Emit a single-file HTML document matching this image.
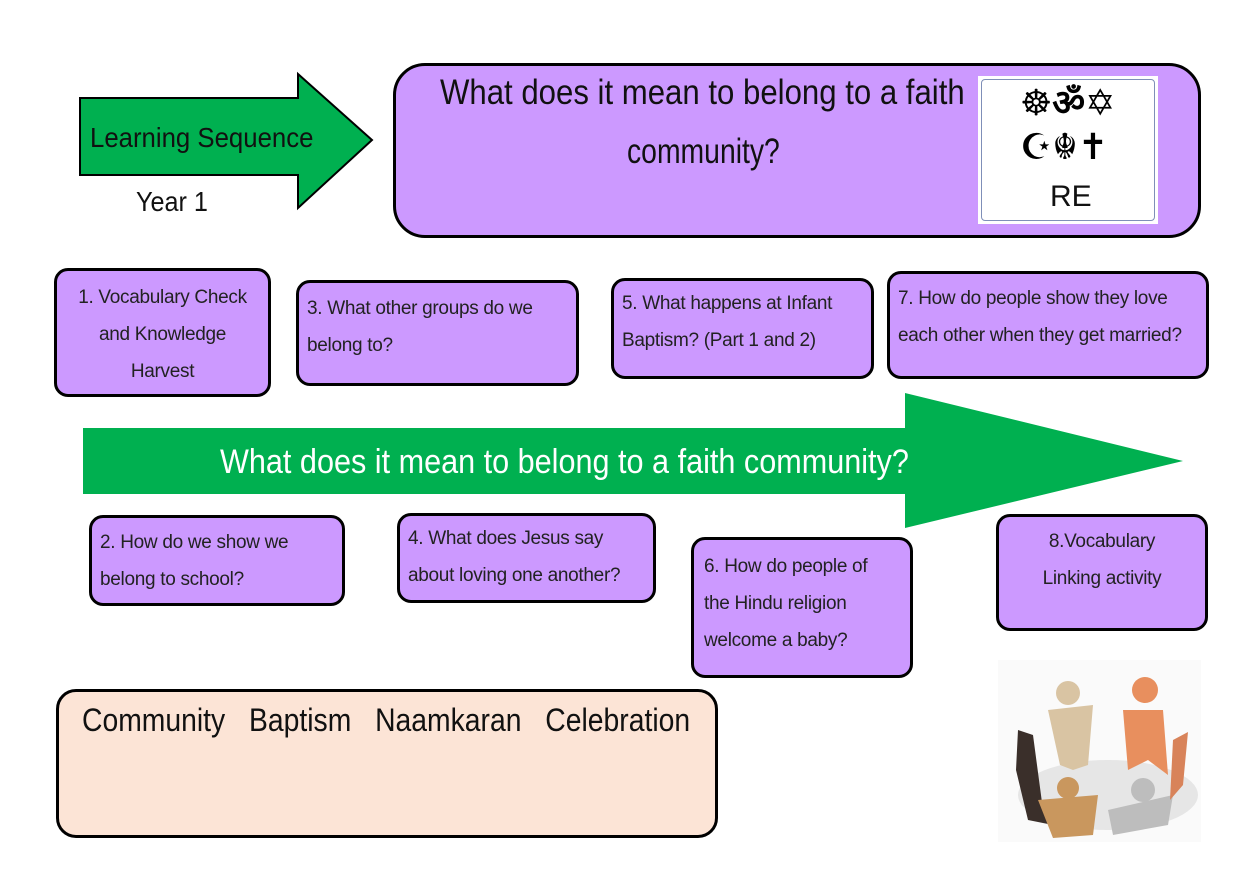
<!DOCTYPE html>
<html><head><style>
body{margin:0;width:1260px;height:891px;background:#fff;position:relative;overflow:hidden;font-family:"Liberation Sans",sans-serif;}
.b{position:absolute;box-sizing:border-box;background:#cc99ff;border:3px solid #000;border-radius:14px;color:#222;font-size:19px;line-height:37px;letter-spacing:-0.3px}
.t{position:absolute;white-space:nowrap;transform-origin:0 0}
</style></head><body>
<svg style="position:absolute;left:0;top:0" width="1260" height="891">
<polygon points="80,98 298,98 298,74 372,140 298,208 298,175 80,175" fill="#00b050" stroke="#000" stroke-width="2"/>
<polygon points="83,428 905,428 905,393 1183,461 905,528 905,494 83,494" fill="#00b050"/>
</svg>
<div class="t" style="left:90px;top:122px;font-size:28px;color:#111;transform:scaleX(0.92)">Learning Sequence</div>
<div class="t" style="left:136px;top:186px;font-size:28px;color:#111;transform:scaleX(0.9)">Year 1</div>
<div class="b" style="left:393px;top:63px;width:808px;height:175px;border-radius:32px"></div>
<div class="t" style="left:440px;top:73px;font-size:35px;color:#111;transform:scaleX(0.89)">What does it mean to belong to a faith</div>
<div class="t" style="left:627px;top:132px;font-size:35px;color:#111;transform:scaleX(0.81)">community?</div>
<div style="position:absolute;left:978px;top:76px;width:180px;height:148px;background:#fff;">
<div style="position:absolute;left:3px;top:3px;right:3px;bottom:3px;border:1px solid #7f8fb8;border-radius:4px"></div>
<div class="t" style="left:42px;top:6px;font-size:36px;line-height:44px;font-family:'DejaVu Sans',sans-serif;color:#000;font-weight:bold">☸ॐ✡<br>☪☬✝</div>
<div class="t" style="left:72px;top:104px;font-size:30px;color:#111">RE</div>
</div>
<div class="b" style="left:54px;top:268px;width:217px;height:129px;text-align:center;padding-top:8px">1. Vocabulary Check<br>and Knowledge<br>Harvest</div>
<div class="b" style="left:296px;top:280px;width:283px;height:106px;padding:7px 0 0 8px">3. What other groups do we<br>belong to?</div>
<div class="b" style="left:611px;top:278px;width:263px;height:101px;padding:4px 0 0 8px">5. What happens at Infant<br>Baptism? (Part 1 and 2)</div>
<div class="b" style="left:887px;top:271px;width:322px;height:108px;padding:6px 0 0 8px">7. How do people show they love<br>each other when they get married?</div>
<div class="t" style="left:220px;top:443px;font-size:34px;color:#fff;transform:scaleX(0.9)">What does it mean to belong to a faith community?</div>
<div class="b" style="left:89px;top:515px;width:256px;height:91px;padding:6px 0 0 8px">2. How do we show we<br>belong to school?</div>
<div class="b" style="left:397px;top:513px;width:259px;height:90px;padding:4px 0 0 8px">4. What does Jesus say<br>about loving one another?</div>
<div class="b" style="left:691px;top:537px;width:222px;height:141px;padding:8px 0 0 10px">6. How do people of<br>the Hindu religion<br>welcome a baby?</div>
<div class="b" style="left:996px;top:514px;width:212px;height:117px;text-align:center;padding-top:6px">8.Vocabulary<br>Linking activity</div>
<div class="b" style="left:56px;top:689px;width:662px;height:149px;background:#fce4d6;border-radius:20px"></div>
<div class="t" style="left:82px;top:702px;font-size:32px;color:#111;word-spacing:18px;transform:scaleX(0.885)">Community Baptism Naamkaran Celebration</div>
<svg style="position:absolute;left:998px;top:660px" width="203" height="182">
<rect width="203" height="182" fill="#fafafa"/>
<ellipse cx="110" cy="135" rx="90" ry="35" fill="#e6e6e6"/>
<g fill="#d9c4a3"><circle cx="70" cy="33" r="12"/><polygon points="50,50 95,45 90,105 75,110 62,105"/></g>
<g fill="#e88f5e"><circle cx="147" cy="30" r="13"/><polygon points="125,50 165,50 170,115 150,100 130,110"/></g>
<g fill="#3a2f2a"><polygon points="20,70 35,75 45,150 55,165 30,160 18,110"/></g>
<g fill="#c9975e"><circle cx="70" cy="128" r="11"/><polygon points="40,140 100,135 95,175 55,178"/></g>
<g fill="#bdbdbd"><circle cx="145" cy="130" r="12"/><polygon points="110,150 175,135 170,165 115,175"/></g>
<polygon points="175,80 190,72 185,125 172,140" fill="#d8835a"/>
</svg>
</body></html>
